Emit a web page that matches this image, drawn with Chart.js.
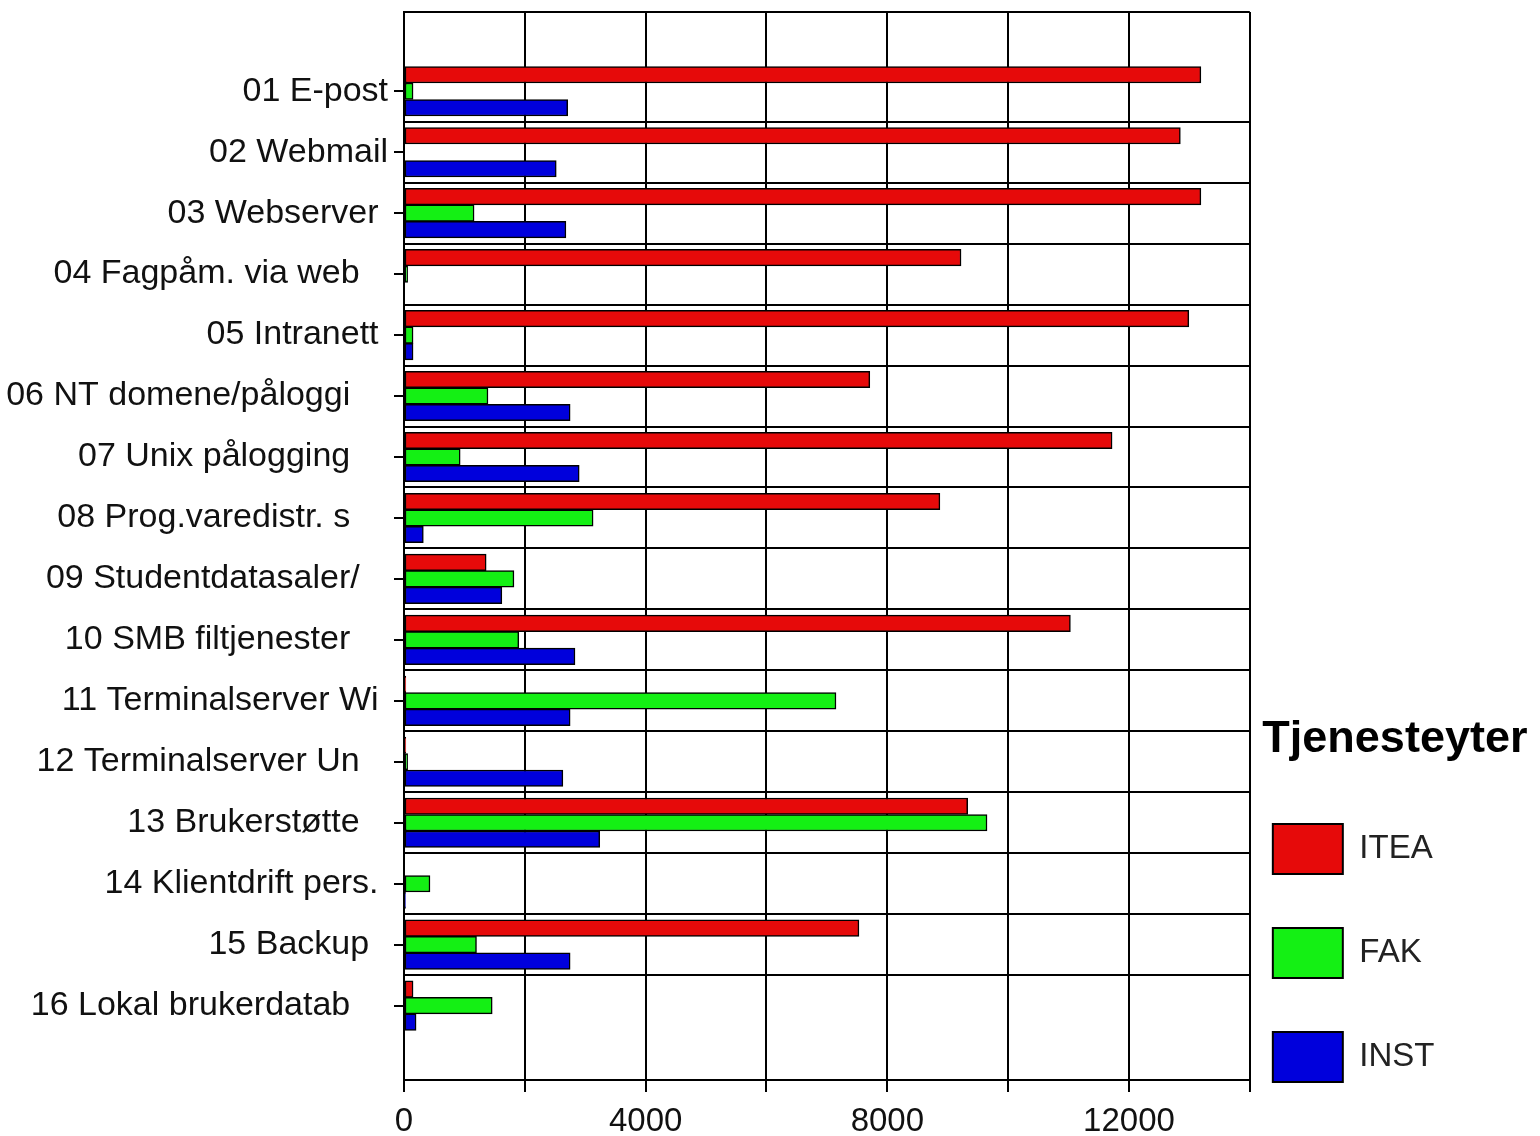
<!DOCTYPE html>
<html>
<head>
<meta charset="utf-8">
<script src="https://cdn.jsdelivr.net/npm/chart.js@4/dist/chart.umd.min.js"></script>
<style>
  body { margin: 0; background: #fff; }
  #wrap { width: 1540px; height: 1136px; }
</style>
</head>
<body>
<div id="wrap"><canvas id="chart" width="1540" height="1136"></canvas></div>
<script>
// tjenester (labels are fixed-width in the original, hence trailing spaces)
const tjenester = [
    '01 E-post', '02 Webmail', '03 Webserver ', '04 Fagpåm. via web   ',
    '05 Intranett ', '06 NT domene/påloggi    ', '07 Unix pålogging    ', '08 Prog.varedistr. s    ',
    '09 Studentdatasaler/   ', '10 SMB filtjenester    ', '11 Terminalserver Wi ', '12 Terminalserver Un   ',
    '13 Brukerstøtte   ', '14 Klientdrift pers. ', '15 Backup  ', '16 Lokal brukerdatab    '
];
const serier = ['ITEA', 'FAK', 'INST'];
const itea = [13190, 12850, 13190, 9220, 12990, 7710, 11720, 8870, 1360, 11030, 30, 30, 9330, 0, 7530, 150];
const fak  = [150, 0, 1160, 60, 150, 1390, 930, 3130, 1820, 1900, 7150, 60, 9650, 430, 1200, 1460];
const inst = [2710, 2520, 2680, 0, 150, 2750, 2900, 320, 1620, 2830, 2750, 2630, 3240, 25, 2750, 200];
const xTicks = [0, 4000, 8000, 12000];

const farger = ['#E60A0A', '#14F014', '#0000DC'];
const yMin = -0.3, yMax = 17.22;

Chart.defaults.font.family = "'Liberation Sans', Arial, sans-serif";
Chart.defaults.color = '#111';

function punkter(verdier) {
    return verdier.map((v, i) => ({ x: v, y: i + 1 }));
}

const heltall = c => c.tick && Number.isInteger(c.tick.value);

// legenden må dekke hele tittelen, ellers klippes den
const legendeBredde = {
    id: 'legendeBredde',
    afterLayout(chart) {
        const l = chart.legend;
        l.right = chart.width;
        l.width = l.right - l.left;
    }
};

new Chart('chart', {
    type: 'bar',
    data: {
        datasets: [itea, fak, inst].map((d, i) => ({
            label: serier[i],
            data: punkter(d),
            backgroundColor: farger[i],
            borderColor: '#000',
            borderWidth: 1.5,
            borderSkipped: false,
            barThickness: 16.5
        }))
    },
    plugins: [legendeBredde],
    options: {
        indexAxis: 'y',
        responsive: false,
        animation: false,
        layout: { padding: { top: 12, right: 95.5, bottom: 0, left: 0 } },
        scales: {
            x: {
                type: 'linear',
                min: 0,
                max: 14000,
                afterFit: s => { s.height = 56; },
                ticks: {
                    stepSize: 2000,
                    autoSkip: false,
                    maxRotation: 0,
                    padding: 10,
                    font: { size: 33 },
                    callback: v => xTicks.includes(v) ? String(v) : ''
                },
                grid: { color: '#000', lineWidth: 2, tickLength: 12 },
                border: { color: '#000', width: 2 }
            },
            y: {
                type: 'linear',
                reverse: true,
                offset: false,
                min: yMin,
                max: yMax,
                afterBuildTicks: scale => {
                    const t = [{ value: yMin }];
                    for (let i = 1; i <= tjenester.length; i++) {
                        t.push({ value: i });
                        if (i < tjenester.length) t.push({ value: i + 0.5 });
                    }
                    t.push({ value: yMax });
                    scale.ticks = t;
                },
                afterFit: s => {
                    s.width = 404;
                    s.paddingTop = 0;
                    s.paddingBottom = 0;
                },
                ticks: {
                    autoSkip: false,
                    padding: 6,
                    font: { size: 34 },
                    callback: v => Number.isInteger(v) ? tjenester[v - 1] : ''
                },
                grid: {
                    offset: false,
                    color: c => heltall(c) ? 'rgba(0,0,0,0)' : '#000',
                    tickColor: c => heltall(c) ? '#000' : 'rgba(0,0,0,0)',
                    lineWidth: 2,
                    tickLength: 10
                },
                border: { color: '#000', width: 2 }
            }
        },
        plugins: {
            tooltip: { enabled: false },
            legend: {
                position: 'right',
                align: 'end',
                title: {
                    display: true,
                    text: ' Tjenesteyter',
                    position: 'start',
                    color: '#000',
                    font: { size: 45, weight: 'bold' },
                    padding: { top: 0, bottom: 29.5 }
                },
                labels: {
                    boxWidth: 70,
                    boxHeight: 50,
                    padding: 23,
                    color: '#222',
                    font: { size: 33, lineHeight: '40.5px' },
                    generateLabels: chart => Chart.defaults.plugins.legend.labels.generateLabels(chart)
                        .map(l => ({ ...l, text: [l.text, ''], lineWidth: 2, strokeStyle: '#000' }))
                }
            }
        }
    }
});
</script>
</body>
</html>
